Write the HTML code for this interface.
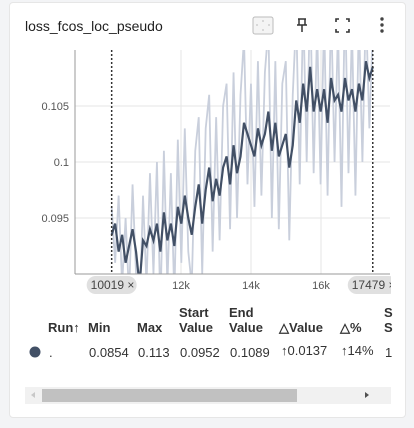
<!DOCTYPE html>
<html><head><meta charset="utf-8">
<style>
body{margin:0;width:414px;height:428px;background:#f3f4f6;font-family:"Liberation Sans",sans-serif;overflow:hidden;position:relative}
.card{position:absolute;left:9px;top:2px;width:397px;height:416px;background:#fff;border:1px solid #e6e6e6;border-radius:4px;box-sizing:border-box}
.t{position:absolute;font-size:13px;color:#212121}
.th{position:absolute;font-size:13px;font-weight:bold;color:#333;line-height:15px}
.td{position:absolute;font-size:13px;color:#333;top:345px}
</style></head><body>
<div class="card"></div>
<div class="t" style="left:25px;top:18px;font-size:14px">loss_fcos_loc_pseudo</div>
<svg style="position:absolute;left:0;top:0" width="414" height="428">
 <g><rect x="253" y="17" width="20" height="17" rx="2" fill="#f4f4f4" stroke="#bbb"/><path d="M263 20v2M263 29v2M256 25h2M268 25h2" stroke="#bbb"/></g>
 <g stroke="#333" stroke-width="1.5" fill="none"><path d="M298 19h8M299 19v6M305 19v6M297 25h10M302 25v7"/></g>
 <g stroke="#333" stroke-width="1.6" fill="none"><path d="M336 22v-3h3M346 19h3v3M349 29v3h-3M339 32h-3v-3"/></g>
 <g fill="#444"><circle cx="382" cy="19" r="1.7"/><circle cx="382" cy="25" r="1.7"/><circle cx="382" cy="31" r="1.7"/></g>
</svg>
<svg id="chart" style="position:absolute;left:0;top:0" width="405" height="300"></svg>
<div class="th" style="left:48px;top:320px">Run↑</div>
<div class="th" style="left:88px;top:320px">Min</div>
<div class="th" style="left:137px;top:320px">Max</div>
<div class="th" style="left:179px;top:305px">Start<br>Value</div>
<div class="th" style="left:229px;top:305px">End<br>Value</div>
<div class="th" style="left:279px;top:320px">△Value</div>
<div class="th" style="left:340px;top:320px">△%</div>
<div class="th" style="left:384px;top:305px">S<br>S</div>
<svg style="position:absolute;left:28px;top:345px" width="14" height="14"><circle cx="7" cy="7" r="5.5" fill="#425066"/></svg>
<div class="td" style="left:49px">.</div>
<div class="td" style="left:89px">0.0854</div>
<div class="td" style="left:138px">0.113</div>
<div class="td" style="left:180px">0.0952</div>
<div class="td" style="left:230px">0.1089</div>
<div class="td" style="left:281px;top:343px">↑0.0137</div>
<div class="td" style="left:341px;top:343px">↑14%</div>
<div class="td" style="left:385px">1</div>
<div style="position:absolute;left:25px;top:387px;width:366px;height:17px;background:#f1f1f1">
 <div style="position:absolute;left:17px;top:2px;width:255px;height:13px;background:#c1c1c1"></div>
 <div style="position:absolute;left:6px;top:5px;border:3px solid transparent;border-right:4px solid #c8c8c8;border-left:0"></div>
 <div style="position:absolute;left:340px;top:5px;border:3px solid transparent;border-left:4px solid #505050;border-right:0"></div>
</div>
<script>
const yTicks=[0.095,0.1,0.105];
const yTickLabels=["0.095","0.1","0.105"];
const xTicks=[12000,14000,16000];
const xTickLabels=["12k","14k","16k"];
const steps=[];for(let i=0;i<76;i++)steps.push(10019+i*99.5);
const smoothed=[.0935,.0945,.092,.0935,.091,.0925,.094,.092,.089,.093,
.0925,.094,.093,.0945,.092,.0955,.093,.0945,.0925,.096,
.0945,.097,.095,.0935,.096,.098,.0945,.0975,.0995,.0965,
.0985,.097,.0995,.1005,.098,.1015,.099,.1005,.1035,.1025,
.1015,.1005,.103,.1015,.1025,.1045,.101,.1035,.1005,.1015,
.1025,.0995,.1015,.1055,.1035,.107,.1045,.1085,.1045,.1065,
.1045,.1065,.1035,.1075,.1055,.106,.1045,.1075,.1055,.1065,
.1045,.107,.1055,.109,.1075,.1085];
const raw=[.096,.091,.097,.089,.095,.088,.098,.090,.086,.097,
.089,.099,.090,.100,.087,.101,.089,.099,.088,.102,
.091,.103,.092,.089,.101,.104,.090,.103,.106,.092,
.104,.093,.105,.107,.094,.108,.095,.106,.111,.098,
.107,.096,.109,.097,.108,.112,.095,.109,.094,.107,
.109,.093,.106,.113,.098,.114,.100,.115,.099,.112,
.098,.113,.097,.114,.100,.112,.096,.115,.099,.112,
.097,.113,.100,.114,.103,.112];
const rangeMarkers=[10019,17479];
const L=75,R=390,T=50,B=274;
const xs=v=>111+(v-10000)/2000*70;
const ys=v=>162-(v-0.1)/0.005*56;
const svg=document.getElementById('chart');const NS='http://www.w3.org/2000/svg';
function mk(t,a){const e=document.createElementNS(NS,t);for(const k in a)e.setAttribute(k,a[k]);svg.appendChild(e);return e;}
const cp=mk('clipPath',{id:'cp'});const cr=document.createElementNS(NS,'rect');cr.setAttribute('x',L);cr.setAttribute('y',T);cr.setAttribute('width',R-L);cr.setAttribute('height',B-T);cp.appendChild(cr);
yTicks.forEach((v,i)=>{
 const g=mk('line',{x1:L,x2:R,y1:ys(v),y2:ys(v),stroke:'#e6e6e6'});
 
 
 const t=mk('text',{x:L-6,y:ys(v)+4,'text-anchor':'end','font-size':'11','fill':'#555','font-family':'Liberation Sans'});t.textContent=yTickLabels[i];
 
 
});
xTicks.forEach((v,i)=>{
 const g=mk('line',{x1:xs(v),x2:xs(v),y1:T,y2:B,stroke:'#e6e6e6'});
 
 
 const t=mk('text',{x:xs(v),y:289,'text-anchor':'middle','font-size':'11','fill':'#555','font-family':'Liberation Sans'});t.textContent=xTickLabels[i];
 
 
});
const rp=mk('polyline',{points:raw.map((v,i)=>xs(steps[i])+','+ys(v)).join(' '),fill:'none',stroke:'#c9cfdc','stroke-width':'1.8','clip-path':'url(#cp)'});


const sp=mk('polyline',{points:smoothed.map((v,i)=>xs(steps[i])+','+ys(v)).join(' '),fill:'none',stroke:'#425066','stroke-width':'2.2','clip-path':'url(#cp)'});


const ax=mk('line',{x1:L,x2:R,y1:B,y2:B,stroke:'#999'});


const ay=mk('line',{x1:L,x2:L,y1:T,y2:B,stroke:'#999'});


rangeMarkers.forEach(v=>{
 const l=mk('line',{x1:xs(v),x2:xs(v),y1:T,y2:B,stroke:'#333','stroke-width':'1.5','stroke-dasharray':'2,2'});
 
 
 const r=mk('rect',{x:xs(v)-25,y:276,width:50,height:18,rx:9,fill:'#e0e0e0'});
 
 
 const t=mk('text',{x:xs(v)-21,y:289,'font-size':'12','fill':'#444','font-family':'Liberation Sans'});t.textContent=v+' ×';
 
 
});
const cover=mk('rect',{x:R+1,y:270,width:14,height:30,fill:'#fff'});


</script>
</body></html>
